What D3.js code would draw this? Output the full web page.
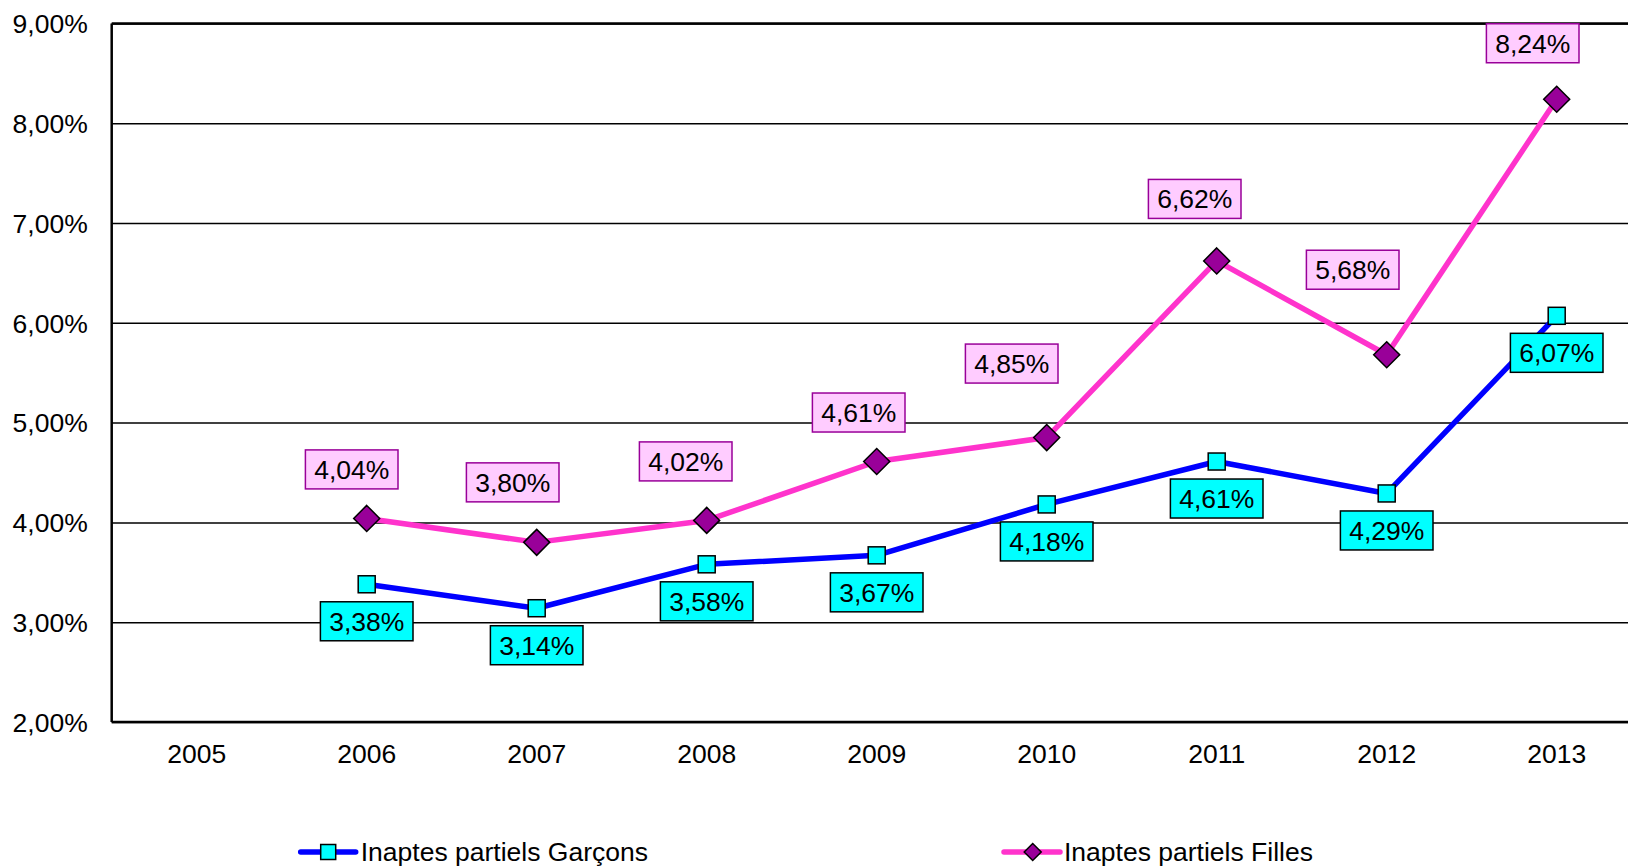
<!DOCTYPE html>
<html lang="fr">
<head>
<meta charset="utf-8">
<title>Inaptes partiels</title>
<script src="https://cdn.jsdelivr.net/npm/d3@7"></script>
<style>
  body { margin: 0; background: #fff; }
  svg { display: block; font-family: "Liberation Sans", Arial, sans-serif; }
  .tick text, .lbl, .legText { font-size: 26.5px; fill: #000; }
  .grid line { stroke: #000; stroke-width: 1.5; }
  .frame { stroke: #000; stroke-width: 2.5; fill: none; }
</style>
</head>
<body>
<div id="chart"></div>
<script>
// data
var years = ["2005", "2006", "2007", "2008", "2009", "2010", "2011", "2012", "2013"];
var garcons = [null, 0.0338, 0.0314, 0.0358, 0.0367, 0.0418, 0.0461, 0.0429, 0.0607];
var filles = [null, 0.0404, 0.0380, 0.0402, 0.0461, 0.0485, 0.0662, 0.0568, 0.0824];
var yTicks = [0.02, 0.03, 0.04, 0.05, 0.06, 0.07, 0.08, 0.09];
var seriesNames = ["Inaptes partiels Garçons", "Inaptes partiels Filles"];
// label nudges for the Filles labels (px, moved by hand in the original)
var fillesLabelShift = [null, [-15, -49], [-24, -60], [-21, -59], [-18, -49], [-35, -74], [-22, -62], [-34, -85], [-24, -56]];

var W = 1628, H = 867;
var plot = {left: 111.7, right: 1641.7, top: 23.4, bottom: 722};

var fr = d3.formatLocale({decimal: ",", thousands: " ", grouping: [3], currency: ["", " €"]});
var pct = fr.format(".2%");

var svg = d3.select("#chart").append("svg")
    .attr("width", W).attr("height", H);

var x = d3.scaleBand().domain(years).range([plot.left, plot.right]).padding(0);
var y = d3.scaleLinear().domain([0.02, 0.09]).range([plot.bottom, plot.top]);
var cx = function(i) { return x(years[i]) + x.bandwidth() / 2; };

// gridlines + y labels
var yAxis = d3.axisLeft(y).tickValues(yTicks).tickFormat(pct)
    .tickSize(-(plot.right - plot.left)).tickPadding(24);
var gy = svg.append("g").attr("class", "grid")
    .attr("transform", "translate(" + plot.left + ",0)")
    .call(yAxis);
gy.select(".domain").remove();
gy.selectAll(".tick text").attr("dy", "0.35em");

// frame
svg.append("line").attr("class", "frame")
   .attr("x1", plot.left).attr("x2", plot.left).attr("y1", plot.top).attr("y2", plot.bottom);
svg.append("line").attr("class", "frame")
   .attr("x1", plot.left).attr("x2", plot.right).attr("y1", plot.bottom).attr("y2", plot.bottom);
svg.append("line").attr("class", "frame")
   .attr("x1", plot.left).attr("x2", plot.right).attr("y1", plot.top).attr("y2", plot.top);

// x labels
var xAxis = d3.axisBottom(x).tickSize(0).tickPadding(22);
var gx = svg.append("g").attr("transform", "translate(0," + plot.bottom + ")").call(xAxis);
gx.select(".domain").remove();

function diamond(r) {
  return "M0," + (-r) + "L" + r + ",0L0," + r + "L" + (-r) + ",0Z";
}

var line = d3.line()
    .defined(function(d) { return d != null; })
    .x(function(d, i) { return cx(i); })
    .y(function(d) { return y(d); });

// Garçons
svg.append("path").datum(garcons)
   .attr("d", line).attr("fill", "none")
   .attr("stroke", "#0000ff").attr("stroke-width", 5.5).attr("stroke-linejoin", "round");
// Filles
svg.append("path").datum(filles)
   .attr("d", line).attr("fill", "none")
   .attr("stroke", "#ff33cc").attr("stroke-width", 5.5).attr("stroke-linejoin", "round");

var gIdx = garcons.map(function(d, i) { return i; }).filter(function(i) { return garcons[i] != null; });
var fIdx = filles.map(function(d, i) { return i; }).filter(function(i) { return filles[i] != null; });

svg.selectAll(".sq").data(gIdx).enter().append("rect")
   .attr("x", function(i) { return cx(i) - 8.5; })
   .attr("y", function(i) { return y(garcons[i]) - 8.5; })
   .attr("width", 17).attr("height", 17)
   .attr("fill", "#00ffff").attr("stroke", "#000").attr("stroke-width", 1.5);

svg.selectAll(".dm").data(fIdx).enter().append("path")
   .attr("d", diamond(13))
   .attr("transform", function(i) { return "translate(" + cx(i) + "," + y(filles[i]) + ")"; })
   .attr("fill", "#990099").attr("stroke", "#000").attr("stroke-width", 1.5);

// data labels
var bw = 92.6, bh = 39;
function addLabel(px, py, txt, fill, stroke) {
  var g = svg.append("g").attr("transform", "translate(" + px + "," + py + ")");
  g.append("rect").attr("x", -bw / 2).attr("y", -bh / 2).attr("width", bw).attr("height", bh)
   .attr("fill", fill).attr("stroke", stroke).attr("stroke-width", 1.5);
  g.append("text").attr("class", "lbl").attr("text-anchor", "middle").attr("dy", "0.35em").text(txt);
}
gIdx.forEach(function(i) {
  addLabel(cx(i), y(garcons[i]) + 37, pct(garcons[i]), "#00ffff", "#000");
});
fIdx.forEach(function(i) {
  var s = fillesLabelShift[i];
  addLabel(cx(i) + s[0], y(filles[i]) + s[1], pct(filles[i]), "#ffccff", "#990099");
});

// legend
var leg = svg.append("g");
var l1 = leg.append("g").attr("transform", "translate(300.7,852)");
l1.append("line").attr("x1", 0).attr("x2", 55).attr("stroke", "#0000ff").attr("stroke-width", 5.5).attr("stroke-linecap", "round");
l1.append("rect").attr("x", 27.5 - 7.5).attr("y", -7.5).attr("width", 15).attr("height", 15)
  .attr("fill", "#00ffff").attr("stroke", "#000").attr("stroke-width", 1.5);
l1.append("text").attr("class", "legText").attr("x", 60).attr("dy", "0.35em").text(seriesNames[0]);

var l2 = leg.append("g").attr("transform", "translate(1004,852)");
l2.append("line").attr("x1", 0).attr("x2", 56).attr("stroke", "#ff33cc").attr("stroke-width", 5.5).attr("stroke-linecap", "round");
l2.append("path").attr("d", diamond(8.5)).attr("transform", "translate(28.7,0)")
  .attr("fill", "#990099").attr("stroke", "#000").attr("stroke-width", 1.5);
l2.append("text").attr("class", "legText").attr("x", 60).attr("dy", "0.35em").text(seriesNames[1]);
</script>
</body>
</html>
